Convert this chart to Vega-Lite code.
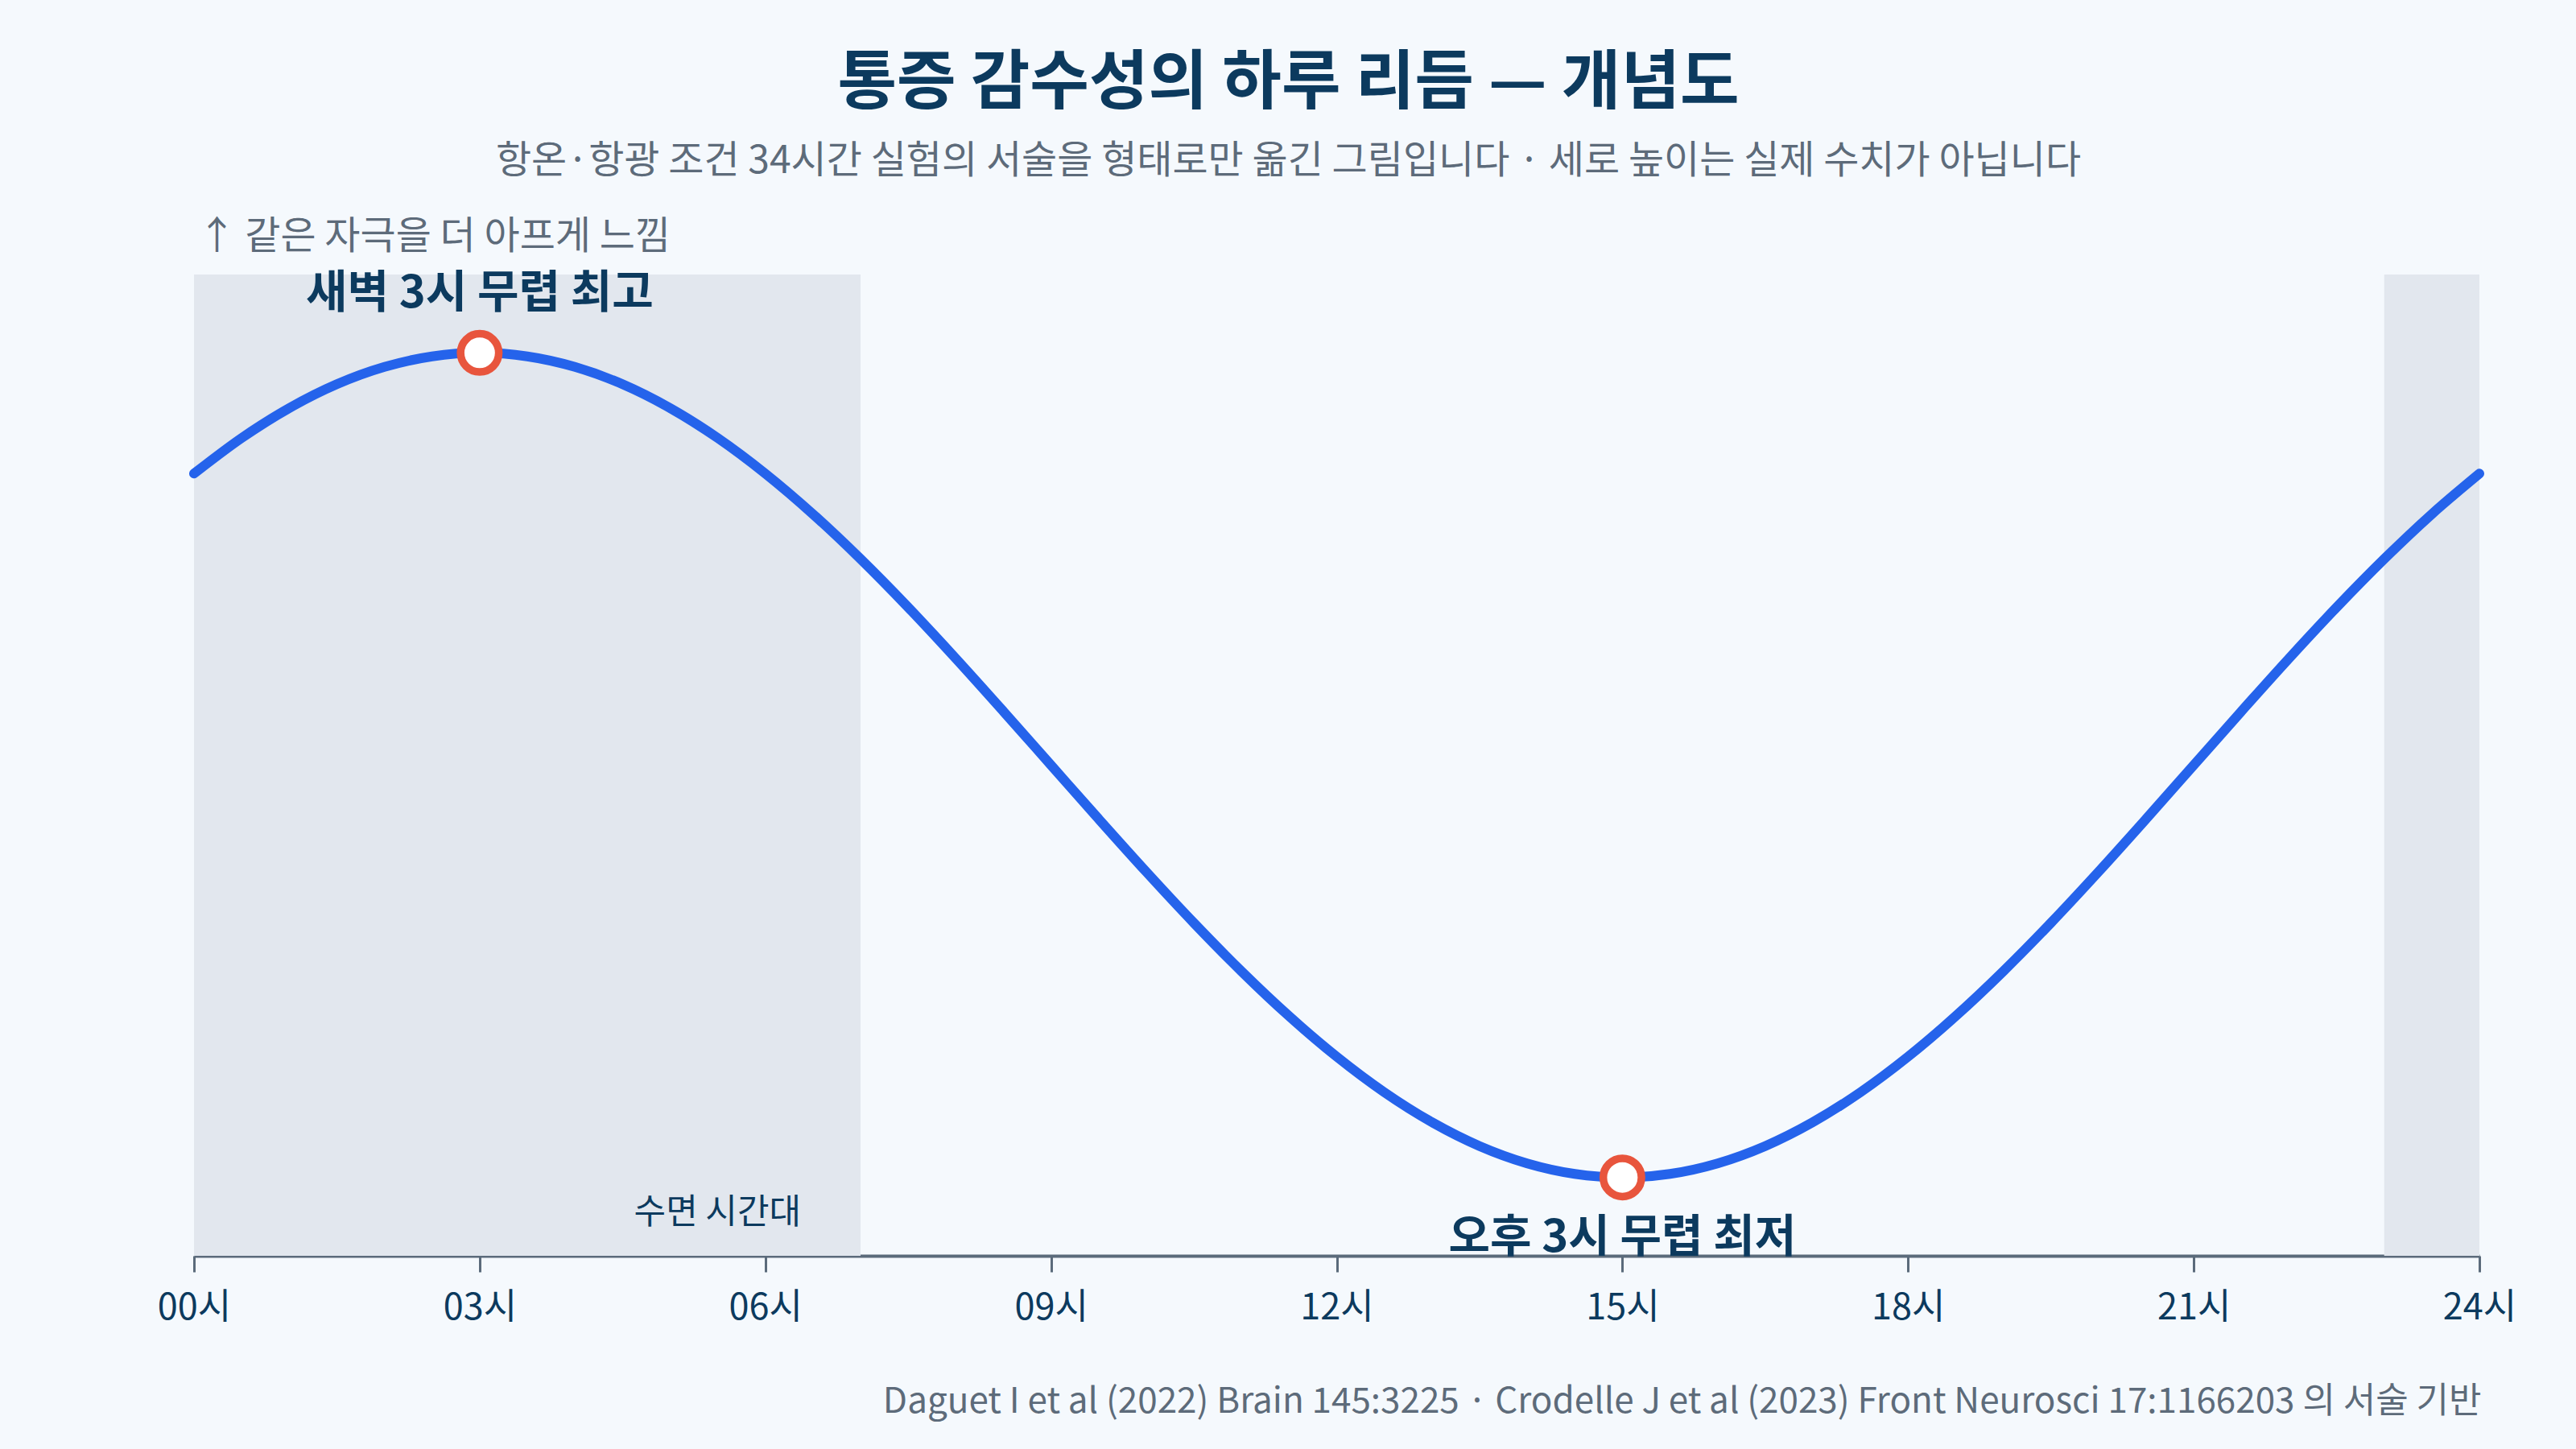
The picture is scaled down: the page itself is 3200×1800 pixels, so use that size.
{
  "$schema": "https://vega.github.io/schema/vega-lite/v6.json",
  "autosize": {"type": "none"},
  "width": 2839,
  "height": 1219,
  "padding": {"left": 241, "top": 341, "right": 120, "bottom": 240},
  "background": "#f5f9fd",
  "config": {
    "font": "Noto Sans CJK KR",
    "view": {"stroke": null},
    "axis": {"grid": false}
  },
  "title": {
    "text": "통증 감수성의 하루 리듬 — 개념도",
    "subtitle": "항온·항광 조건 34시간 실험의 서술을 형태로만 옮긴 그림입니다 · 세로 높이는 실제 수치가 아닙니다",
    "anchor": "middle",
    "dx": -60,
    "offset": 44,
    "fontSize": 80,
    "fontWeight": "bold",
    "color": "#0c3a5e",
    "subtitleFontSize": 48,
    "subtitleColor": "#5d6b7a",
    "subtitlePadding": 32,
    "font": "Noto Sans CJK KR",
    "subtitleFont": "Noto Sans CJK KR"
  },
  "datasets": {
    "sleep": [
      {"start": 0, "end": 7},
      {"start": 23, "end": 24}
    ],
    "curve": [
      {"hour": 0, "v": 0.7071}, {"hour": 0.5, "v": 0.7934}, {"hour": 1, "v": 0.866}, {"hour": 1.5, "v": 0.9239},
      {"hour": 2, "v": 0.9659}, {"hour": 2.5, "v": 0.9914}, {"hour": 3, "v": 1}, {"hour": 3.5, "v": 0.9914},
      {"hour": 4, "v": 0.9659}, {"hour": 4.5, "v": 0.9239}, {"hour": 5, "v": 0.866}, {"hour": 5.5, "v": 0.7934},
      {"hour": 6, "v": 0.7071}, {"hour": 6.5, "v": 0.6088}, {"hour": 7, "v": 0.5}, {"hour": 7.5, "v": 0.3827},
      {"hour": 8, "v": 0.2588}, {"hour": 8.5, "v": 0.1305}, {"hour": 9, "v": 0}, {"hour": 9.5, "v": -0.1305},
      {"hour": 10, "v": -0.2588}, {"hour": 10.5, "v": -0.3827}, {"hour": 11, "v": -0.5}, {"hour": 11.5, "v": -0.6088},
      {"hour": 12, "v": -0.7071}, {"hour": 12.5, "v": -0.7934}, {"hour": 13, "v": -0.866}, {"hour": 13.5, "v": -0.9239},
      {"hour": 14, "v": -0.9659}, {"hour": 14.5, "v": -0.9914}, {"hour": 15, "v": -1}, {"hour": 15.5, "v": -0.9914},
      {"hour": 16, "v": -0.9659}, {"hour": 16.5, "v": -0.9239}, {"hour": 17, "v": -0.866}, {"hour": 17.5, "v": -0.7934},
      {"hour": 18, "v": -0.7071}, {"hour": 18.5, "v": -0.6088}, {"hour": 19, "v": -0.5}, {"hour": 19.5, "v": -0.3827},
      {"hour": 20, "v": -0.2588}, {"hour": 20.5, "v": -0.1305}, {"hour": 21, "v": 0}, {"hour": 21.5, "v": 0.1305},
      {"hour": 22, "v": 0.2588}, {"hour": 22.5, "v": 0.3827}, {"hour": 23, "v": 0.5}, {"hour": 23.5, "v": 0.6088},
      {"hour": 24, "v": 0.7071}
    ],
    "extremes": [
      {"hour": 3, "v": 1, "label": "새벽 3시 무렵 최고"},
      {"hour": 15, "v": -1, "label": "오후 3시 무렵 최저"}
    ],
    "sleepLabel": [
      {"hour": 7, "v": -1.19, "label": "수면 시간대"}
    ]
  },
  "encoding": {
    "x": {
      "field": "hour",
      "type": "quantitative",
      "scale": {"domain": [0, 24], "nice": false, "zero": false},
      "axis": {
        "values": [0, 3, 6, 9, 12, 15, 18, 21, 24],
        "labelExpr": "(datum.value < 10 ? '0' : '') + datum.value + '시'",
        "labelFontSize": 45,
        "labelColor": "#0c3a5e",
        "labelPadding": 22,
        "labelFlush": false,
        "labelOverlap": false,
        "tickSize": 20,
        "tickWidth": 3,
        "tickColor": "#5b6b7b",
        "domainColor": "#5b6b7b",
        "domainWidth": 4,
        "title": "Daguet I et al (2022) Brain 145:3225 · Crodelle J et al (2023) Front Neurosci 17:1166203 의 서술 기반",
        "titleFontSize": 44,
        "titleFontWeight": "normal",
        "titleColor": "#5d6b7a",
        "titleAlign": "right",
        "titleBaseline": "middle",
        "titleX": 2841,
        "titleY": 181
      }
    },
    "y": {
      "field": "v",
      "type": "quantitative",
      "scale": {"domain": [-1.19, 1.19], "nice": false, "zero": false},
      "axis": {
        "labels": false,
        "ticks": false,
        "domain": false,
        "title": "↑ 같은 자극을 더 아프게 느낌",
        "titleAngle": 0,
        "titleAlign": "left",
        "titleBaseline": "middle",
        "titleX": 4,
        "titleY": -47,
        "titleFontSize": 48,
        "titleFontWeight": "normal",
        "titleColor": "#5d6b7a"
      }
    }
  },
  "layer": [
    {
      "data": {"name": "sleep"},
      "mark": {"type": "rect", "color": "#e2e7ee"},
      "encoding": {
        "x": {"field": "start", "type": "quantitative"},
        "x2": {"field": "end"},
        "y": null
      }
    },
    {
      "data": {"name": "curve"},
      "mark": {"type": "line", "color": "#2563eb", "strokeWidth": 12, "interpolate": "monotone", "strokeCap": "round"}
    },
    {
      "data": {"name": "extremes"},
      "mark": {"type": "point", "shape": "circle", "filled": true, "fill": "#ffffff", "stroke": "#e8553d", "strokeWidth": 9.5, "size": 2250, "opacity": 1}
    },
    {
      "data": {"name": "extremes"},
      "transform": [{"filter": "datum.v > 0"}],
      "mark": {"type": "text", "fontSize": 56, "fontWeight": "bold", "color": "#0c3a5e", "baseline": "alphabetic", "dy": -56},
      "encoding": {"text": {"field": "label"}}
    },
    {
      "data": {"name": "extremes"},
      "transform": [{"filter": "datum.v < 0"}],
      "mark": {"type": "text", "fontSize": 56, "fontWeight": "bold", "color": "#0c3a5e", "baseline": "alphabetic", "dy": 92},
      "encoding": {"text": {"field": "label"}}
    },
    {
      "data": {"name": "sleepLabel"},
      "mark": {"type": "text", "fontSize": 43, "color": "#0c3a5e", "align": "right", "baseline": "alphabetic", "dx": -74, "dy": -40},
      "encoding": {"text": {"field": "label"}}
    }
  ]
}
